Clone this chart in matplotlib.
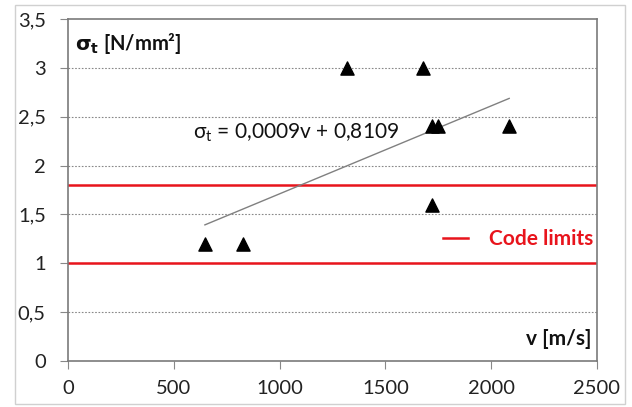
import matplotlib.pyplot as plt
import matplotlib.lines as mlines
from matplotlib.patches import Rectangle
import numpy as np

plt.rcParams['font.family'] = ['Lato', 'DejaVu Sans']

# measured points
v = [647, 827, 1318, 1678, 1722, 1748, 1718, 2085]
sigma = [1.2, 1.2, 3.0, 3.0, 2.4, 2.4, 1.6, 2.4]

# trend line y = a*v + b
slope = 0.0009
intercept = 0.8109

code_limits = [1.0, 1.8]

yticks = [0, 0.5, 1, 1.5, 2, 2.5, 3, 3.5]
ytick_labels = ['0', '0,5', '1', '1,5', '2', '2,5', '3', '3,5']
xticks = [0, 500, 1000, 1500, 2000, 2500]

fig = plt.figure(figsize=(6.32, 4.07), dpi=100)
fig.patches.append(Rectangle((15 / 632, 3 / 407), 610 / 632, 399 / 407,
                             transform=fig.transFigure, fill=False,
                             edgecolor='#d0d0d0', lw=1))
ax = fig.add_axes([68 / 632, 1 - 361 / 407, 529 / 632, 342 / 407])

ax.set_xlim(0, 2500)
ax.set_ylim(0, 3.5)

for y in yticks[1:-1]:
    ax.axhline(y, color='#888888', lw=0.8, ls=(0, (1.5, 1.5)), zorder=1)

for lim in code_limits:
    ax.axhline(lim, color='#e8141c', lw=1.8, zorder=2)

vx = np.array([min(v), max(v)])
ax.plot(vx, slope * vx + intercept, color='#808080', lw=1.0, zorder=3)

ax.scatter(v, sigma, marker='^', s=90, color='black', zorder=4)

ax.set_xticks(xticks)
ax.set_yticks(yticks)
ax.set_yticklabels(ytick_labels)
ax.tick_params(labelsize=14.5, colors='#888888', labelcolor='#222222',
               length=6, width=0.8)
ax.tick_params(axis='y', pad=10)
ax.tick_params(axis='x', pad=8)

for s in ax.spines.values():
    s.set_color('#7a7a7a')
    s.set_linewidth(1.2)

ax.text(0.014, 0.965, r'$\mathbf{\sigma}_\mathbf{t}$ [N/mm²]', transform=ax.transAxes,
        fontsize=14.5, fontweight='bold', va='top', ha='left', color='#111111')
ax.text(0.99, 0.035, 'v [m/s]', transform=ax.transAxes, fontsize=15,
        fontweight='bold', va='bottom', ha='right', color='#111111')
ax.text(590, 2.33, r'$\mathregular{\sigma_t}$ = 0,0009v + 0,8109', fontsize=15,
        color='#111111', va='center', ha='left')

handle = mlines.Line2D([], [], color='#e8141c', lw=1.8)
leg = ax.legend([handle], ['Code limits'], loc='center right',
                bbox_to_anchor=(1.028, 0.357), frameon=False, handlelength=1.2,
                handletextpad=1.0, prop={'size': 15, 'weight': 'bold'})
for t in leg.get_texts():
    t.set_color('#e8141c')

fig.savefig('out.png', dpi=100)
